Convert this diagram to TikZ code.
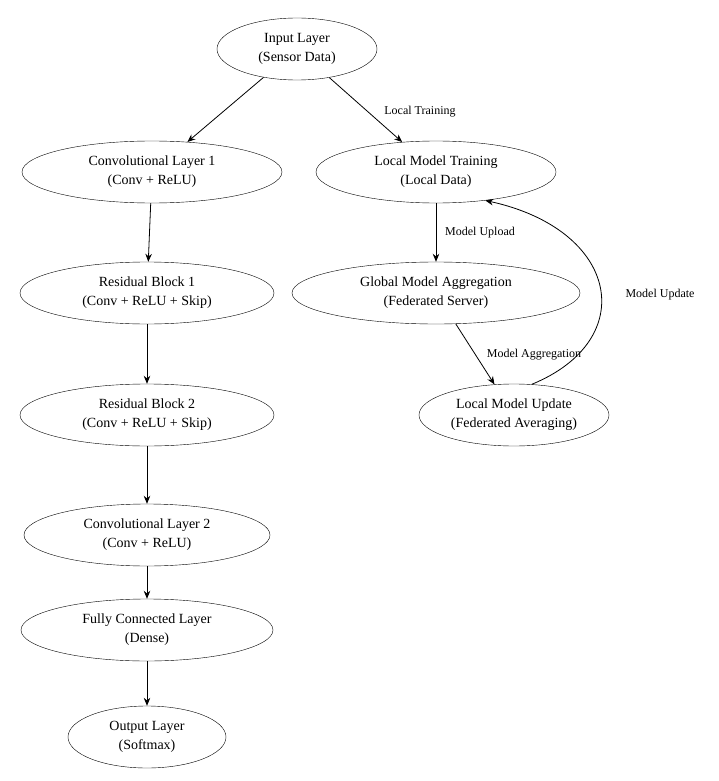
\documentclass[tikz,border=0pt]{standalone}
\usepackage{fontspec}
\setmainfont{Liberation Serif}
\usetikzlibrary{shapes.geometric,arrows.meta}
\begin{document}
\begin{tikzpicture}[x=1pt,y=-1pt,
  nd/.style={draw,ellipse,inner sep=0pt,align=center,font=\fontsize{14}{19}\selectfont},
  ar/.style={-{Stealth[length=8pt,width=6.5pt]},line width=0.8pt}]
\useasboundingbox (0,0) rectangle (718,781);
\node[nd,minimum width=160,minimum height=62] (in) at (297,49) {Input Layer\\(Sensor Data)};
\node[nd,minimum width=260,minimum height=62] (c1) at (152,172) {Convolutional Layer 1\\(Conv + ReLU)};
\node[nd,minimum width=240,minimum height=62] (lt) at (436,172) {Local Model Training\\(Local Data)};
\node[nd,minimum width=254,minimum height=62] (r1) at (147,293) {Residual Block 1\\(Conv + ReLU + Skip)};
\node[nd,minimum width=288,minimum height=62] (ga) at (436,293) {Global Model Aggregation\\(Federated Server)};
\node[nd,minimum width=254,minimum height=62] (r2) at (147,415) {Residual Block 2\\(Conv + ReLU + Skip)};
\node[nd,minimum width=190,minimum height=62] (lu) at (514,415) {Local Model Update\\(Federated Averaging)};
\node[nd,minimum width=246,minimum height=62] (c2) at (147,535) {Convolutional Layer 2\\(Conv + ReLU)};
\node[nd,minimum width=252,minimum height=62] (fc) at (147,630) {Fully Connected Layer\\(Dense)};
\node[nd,minimum width=158,minimum height=62] (out) at (147,737) {Output Layer\\(Softmax)};
\draw[ar] (in) -- (c1);
\draw[ar] (in) -- (lt);
\draw[ar] (c1) -- (r1);
\draw[ar] (r1) -- (r2);
\draw[ar] (r2) -- (c2);
\draw[ar] (c2) -- (fc);
\draw[ar] (fc) -- (out);
\draw[ar] (lt) -- (ga);
\draw[ar] (ga) -- (lu);
\draw[ar] (lu.60) .. controls (640,340) and (620,230) .. (lt.-30);
\node[font=\fontsize{12}{14}\selectfont] (l1) at (420,112) {Local Training};
\node[font=\fontsize{12}{14}\selectfont] (l2) at (480,233) {Model Upload};
\node[font=\fontsize{12}{14}\selectfont] (l3) at (534,355) {Model Aggregation};
\node[font=\fontsize{12}{14}\selectfont] (l4) at (660,295) {Model Update};
\end{tikzpicture}
\end{document}
